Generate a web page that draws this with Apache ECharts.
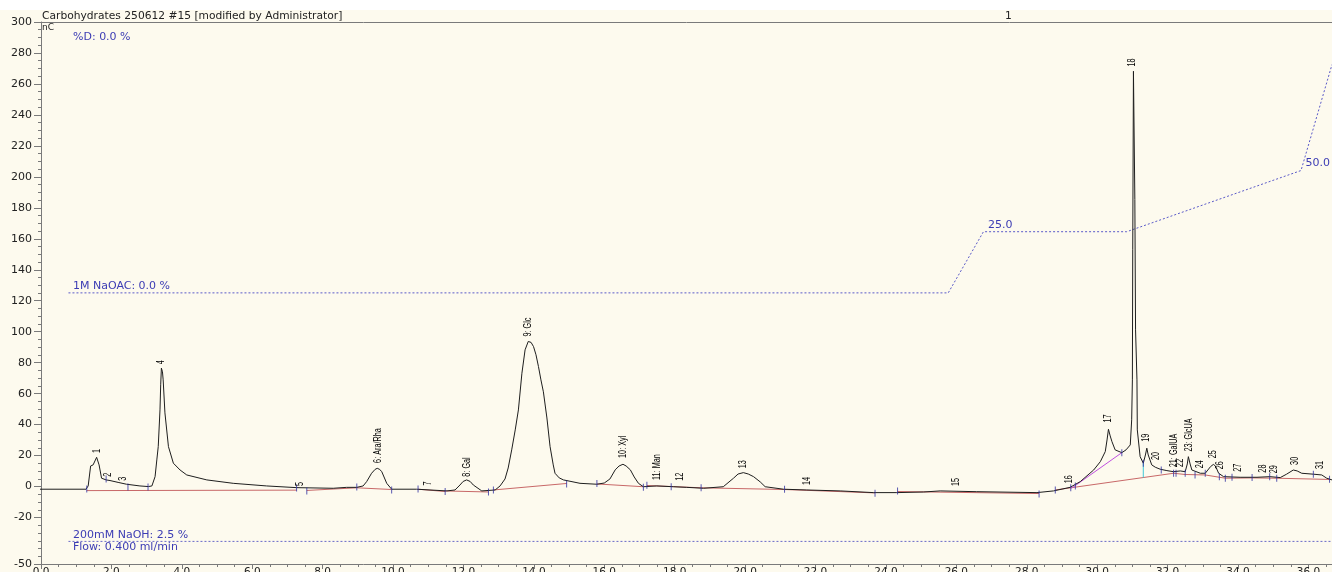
<!DOCTYPE html>
<html><head><meta charset="utf-8">
<script src="https://cdn.jsdelivr.net/npm/echarts@6/dist/echarts.min.js"></script>
<style>html,body{margin:0;padding:0;background:#fff}#c{width:1332px;height:572px}</style>
</head><body><div id="c"></div>
<script>
// ---- data (time in min, signal in nC) ----
const signal = [
[-0.74,-1.7],[1.28,-1.7],[1.34,0.4],[1.41,13.3],[1.48,14.0],[1.58,18.9],[1.65,14.0],[1.72,5.4],[1.85,4.3],[1.96,3.9],
[2.19,2.7],[2.43,1.5],[2.81,0.4],[3.05,0.0],[3.15,0.4],[3.24,6.4],[3.29,17.2],[3.33,25.8],[3.38,49.5],[3.40,65.7],
[3.42,76.5],[3.45,74.1],[3.47,68.9],[3.52,47.6],[3.62,25.8],[3.76,15.1],[3.95,10.7],[4.14,7.5],[4.71,4.3],[5.46,2.1],
[6.41,0.4],[7.26,-0.7],[8.30,-1.1],[8.68,-0.5],[8.97,-0.5],[9.15,0.4],[9.25,3.2],[9.39,8.6],[9.49,11.1],[9.55,11.8],
[9.62,11.1],[9.68,9.6],[9.82,2.1],[9.96,-1.7],[10.67,-1.7],[11.05,-2.2],[11.53,-2.8],[11.76,-2.2],[11.90,1.0],[11.99,3.3],
[12.09,4.3],[12.19,3.3],[12.28,1.0],[12.52,-2.8],[12.90,-2.2],[13.04,0.4],[13.18,4.9],[13.27,12.0],[13.37,23.7],[13.47,36.6],
[13.56,49.5],[13.66,73.2],[13.75,88.3],[13.84,93.7],[13.92,93.1],[13.99,90.4],[14.06,85.1],[14.13,77.5],[14.20,68.9],[14.27,61.2],
[14.37,44.3],[14.46,25.8],[14.55,14.0],[14.60,8.6],[14.72,5.6],[14.84,4.3],[15.31,2.1],[15.79,1.5],[16.00,2.3],[16.16,4.9],
[16.31,10.8],[16.42,13.3],[16.53,14.4],[16.62,13.3],[16.74,10.8],[16.85,6.2],[16.97,2.1],[17.11,-0.1],[17.49,0.4],[17.96,-0.1],
[18.34,-0.5],[18.82,-1.1],[19.38,-0.1],[19.67,5.4],[19.80,8.1],[19.95,9.0],[20.09,8.1],[20.24,6.4],[20.43,3.0],[20.57,-0.1],
[21.09,-1.7],[21.75,-2.2],[22.70,-2.8],[23.65,-3.9],[24.31,-3.9],[25.07,-3.5],[25.54,-2.8],[26.58,-3.3],[28.29,-3.9],[28.76,-2.8],
[29.23,-0.5],[29.52,3.2],[29.90,10.7],[30.09,16.1],[30.23,22.6],[30.28,30.1],[30.32,37.0],[30.37,32.7],[30.42,29.0],[30.51,23.7],
[30.70,21.9],[30.82,23.7],[30.94,26.9],[30.98,43.1],[31.00,68.9],[31.01,152.9],[31.03,268.2],[31.07,185.3],[31.09,101.2],[31.13,68.9],
[31.14,36.6],[31.22,19.3],[31.31,15.1],[31.37,20.4],[31.41,24.8],[31.45,20.4],[31.55,14.0],[31.65,12.5],[31.70,13.6],[31.79,11.2],
[31.98,10.3],[32.17,9.6],[32.36,10.1],[32.50,9.6],[32.56,14.6],[32.59,19.3],[32.64,14.6],[32.69,10.7],[32.93,8.6],[33.07,8.6],
[33.22,12.9],[33.30,14.3],[33.36,13.3],[33.45,8.6],[33.59,6.4],[34.06,6.0],[34.54,6.0],[34.91,6.4],[35.20,5.8],[35.38,8.0],
[35.57,10.7],[35.68,10.1],[35.81,8.6],[36.14,8.0],[36.38,7.5],[36.52,5.4],[36.67,4.3]
];
// integration baselines (null separates segments)
const baselines = [
[1.30,-2.6],[7.26,-2.3],null,
[7.55,-2.5],[8.97,-0.8],[9.96,-1.9],null,
[10.71,-1.7],[11.48,-3.2],null,
[11.45,-2.8],[12.71,-3.5],null,
[12.85,-2.2],[14.93,2.0],null,
[15.79,1.7],[17.11,-0.1],null,
[17.21,0.7],[18.75,-0.8],[21.12,-1.9],[23.69,-4.1],null,
[24.33,-3.2],[28.35,-4.5],null,
[28.81,-2.2],[32.17,8.6],[32.50,7.8],[33.07,7.5],[33.64,5.4],[34.40,5.6],[35.09,5.4],[36.60,4.6]
];
const skimLine = [[29.27,-1.1],[30.70,21.9]];
const dropLine = [[31.31,15.1],[31.31,5.8]];
const peakMarks = [
[1.30,-1.6],[1.85,4.9],[2.47,-0.3],[3.04,-0.3],[7.26,-0.9],[7.55,-2.8],[8.97,-0.3],[9.96,-2.2],[10.71,-1.6],[11.48,-3.2],
[12.71,-3.5],[12.85,-2.2],[14.93,1.7],[15.79,2.0],[17.11,-0.5],[17.21,0.8],[17.90,-0.1],[18.75,-0.7],[21.12,-1.7],[23.69,-4.3],
[24.33,-2.8],[28.35,-4.8],[28.81,-2.2],[29.25,-0.7],[29.38,0.4],[30.70,21.9],[31.31,15.1],[31.82,10.7],[32.17,8.6],[32.24,8.6],
[32.50,8.6],[32.78,7.5],[33.07,8.6],[33.47,6.4],[33.64,5.4],[33.83,6.0],[34.40,5.8],[34.90,6.4],[35.10,5.4],[36.14,8.0],[36.60,4.7]
];
const peakNames = ["1","2","3","4","5","6: Ara/Rha","7","8: Gal","9: Glc","10: Xyl","11: Man","12","13","14","15","16","17","18","19","20",
"21: GalUA","22","23: GlcUA","24","25","26","27","28","29","30","31"];
const peakLabelTime = [1.58,1.91,2.34,3.42,7.36,9.58,11.0,12.09,13.82,16.54,17.49,18.15,19.93,21.77,25.99,29.19,30.32,31.0,31.38,31.68,
32.19,32.36,32.62,32.93,33.29,33.49,34.01,34.71,35.03,35.62,36.32];
const peakLabelNC = [21.7,6.4,3.8,79,0.4,15.3,0.7,6.4,96.9,18.5,4.3,3.8,11.8,1.0,0.4,2.1,41.3,271.2,29.0,17.2,
12.5,12.7,22.6,11.8,18.3,11.2,9.6,9.0,8.6,14.0,11.4];
// NaOAC gradient (% of 1M NaOAC)
const naoacTime = [0.78,25.77,26.77,30.84,35.79,36.67];
const naoacPct  = [0,0,25,25,50,93.3];
const naoacText = ["1M NaOAC: 0.0 %","","25.0","","50.0",""];
const naohTime = [0.78,36.67];
const naohLevel = [-35.4,-35.4];
const yTickLabels = [-50,-20,0,20,40,60,80,100,120,140,160,180,200,220,240,260,280,300];

// ---- chart ----
const chart = echarts.init(document.getElementById('c'), null, {renderer:'canvas'});
const cream = '#FDFAEE';
const axisGrey = '#7a7a7a';
const labelFont = 'DejaVu Sans';
const blue = '#3c3cb4';
const hiddenSym = {symbol:'circle', symbolSize:1, showSymbol:true, showAllSymbol:true, itemStyle:{color:'rgba(0,0,0,0)'}};
chart.setOption({
  backgroundColor: cream,
  animation: false,
  grid: {left:41, right:0, top:22, bottom:8, containLabel:false, outerBoundsMode:'none'},
  xAxis: [
    {type:'value', min:0, max:36.67, interval:2, position:'bottom',
     axisLine:{show:true, onZero:false, lineStyle:{color:axisGrey, width:1}},
     axisTick:{show:true, length:5, lineStyle:{color:axisGrey}},
     minorTick:{show:true, splitNumber:4, length:3, lineStyle:{color:axisGrey}},
     axisLabel:{formatter:v=>v.toFixed(1), fontSize:10.5, fontFamily:labelFont, color:'#222', margin:3, showMaxLabel:false},
     splitLine:{show:false}},
    {type:'value', min:0, max:36.67, position:'top',
     axisLine:{show:true, onZero:false, lineStyle:{color:axisGrey, width:1}},
     axisTick:{show:false}, axisLabel:{show:false}, splitLine:{show:false}}
  ],
  yAxis: [
    {type:'value', min:-50, max:300, position:'left',
     axisLine:{show:true, onZero:false, lineStyle:{color:axisGrey}},
     axisTick:{show:true, length:7, customValues:yTickLabels, lineStyle:{color:axisGrey}},
     axisLabel:{customValues:yTickLabels, fontSize:11, fontFamily:labelFont, color:'#222', margin:9},
     splitLine:{show:false}},
    {type:'value', min:-50, max:300, interval:5, position:'left',
     axisLine:{show:false}, axisTick:{show:true, length:3, lineStyle:{color:axisGrey}},
     axisLabel:{show:false}, splitLine:{show:false}},
    {type:'value', min:-110.8, max:110.7, show:false, splitLine:{show:false}}
  ],
  graphic: [
    {type:'rect', left:0, top:0, shape:{width:1332, height:10}, style:{fill:'#ffffff'}, z:-1},
    {type:'text', left:42, top:11, style:{text:'Carbohydrates 250612 #15 [modified by Administrator]', font:'10.7px "DejaVu Sans"', fill:'#222'}},
    {type:'text', left:1005, top:11, style:{text:'1', font:'10.7px "DejaVu Sans"', fill:'#222'}},
    {type:'text', left:42, top:23, style:{text:'nC', font:'9px "DejaVu Sans"', fill:'#222'}},
    {type:'text', left:73, top:32, style:{text:'%D: 0.0 %', font:'11px "DejaVu Sans"', fill:blue}}
  ],
  series: [
    Object.assign({type:'line', name:'NaOAC', xAxisIndex:0, yAxisIndex:2, silent:true, z:2,
     lineStyle:{color:'#5a5ac8', width:1, type:[2,2]},
     data: naoacTime.map((t,i)=>({value:[t,naoacPct[i]],
       label:{show: naoacText[i] !== '', formatter: naoacText[i], position:'right', distance:4, offset:[0,-7],
              fontSize:11, fontFamily:labelFont, color:blue}}))}, hiddenSym),
    Object.assign({type:'line', name:'NaOH', xAxisIndex:0, yAxisIndex:0, silent:true, z:2,
     lineStyle:{color:'#6a6ac8', width:1, type:[2,2]},
     data: naohTime.map((t,i)=>({value:[t,naohLevel[i]],
       label:{show:i===0, formatter:'200mM NaOH: 2.5 %\nFlow: 0.400 ml/min', position:'right', distance:4,
              lineHeight:12, fontSize:11, fontFamily:labelFont, color:blue}}))}, hiddenSym),
    {type:'line', name:'baseline', data:baselines, symbol:'none', connectNulls:false, z:3, silent:true,
     lineStyle:{color:'#c86868', width:1}},
    {type:'line', name:'skim', data:skimLine, symbol:'none', z:3, silent:true, lineStyle:{color:'#c050e0', width:1}},
    {type:'line', name:'drop', data:dropLine, symbol:'none', z:3, silent:true, lineStyle:{color:'#40c8d8', width:1}},
    {type:'line', name:'signal', data:signal, symbol:'none', clip:false, z:5, silent:true,
     lineStyle:{color:'#1e1e1e', width:1}},
    {type:'scatter', name:'marks', data:peakMarks, symbol:'rect', symbolSize:[1,7], z:6, silent:true,
     itemStyle:{color:'#3030a0'}},
    {type:'custom', name:'peaks', coordinateSystem:'cartesian2d', z:7, silent:true, clip:false,
     data: peakNames.map((n,i)=>[peakLabelTime[i], peakLabelNC[i]]),
     encode:{x:0, y:1},
     renderItem:(params, api)=>{
       const p = api.coord([api.value(0), api.value(1)]);
       return {type:'text', x:p[0], y:p[1], rotation:Math.PI/2, scaleX:0.66, scaleY:1,
         style:{text:peakNames[params.dataIndex], font:'11px "Liberation Sans", sans-serif', fill:'#000',
                align:'left', verticalAlign:'middle'}};
     }}
  ]
});
</script>
</body></html>
